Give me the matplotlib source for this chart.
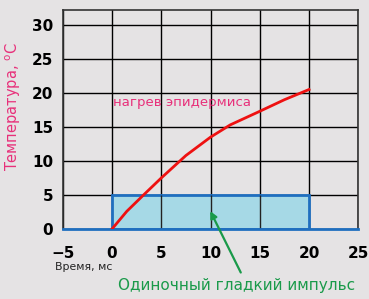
import numpy as np
import matplotlib
matplotlib.use("Agg")
import matplotlib.pyplot as plt
from matplotlib.patches import Rectangle

# кривая нагрева эпидермиса
t_ms = [0, 1.5, 3.2, 5, 7.5, 10, 12, 15, 17.5, 20]
temp_c = [0, 2.6, 5, 7.5, 10.8, 13.5, 15.3, 17.3, 19.0, 20.5]

# импульс
pulse_start, pulse_end, pulse_height = 0, 20, 5

xticks = [-5, 0, 5, 10, 15, 20, 25]
yticks = [0, 5, 10, 15, 20, 25, 30]

bg = "#e5e3e4"
fig = plt.figure(figsize=(3.69, 2.99), dpi=100, facecolor=bg)
ax = fig.add_axes([0.170, 0.234, 0.801, 0.733])
ax.set_facecolor(bg)

ax.set_xlim(-5, 25)
ax.set_ylim(0, 32.2)
ax.set_xticks(xticks)
ax.set_yticks(yticks)
ax.grid(True, color="black", lw=1.0)
ax.set_axisbelow(True)
ax.tick_params(length=0, labelsize=11)
ax.tick_params(axis="x", pad=12)
ax.tick_params(axis="y", pad=7)
for lab in ax.get_xticklabels() + ax.get_yticklabels():
    lab.set_fontweight("bold")

for s in ["left", "right", "top"]:
    ax.spines[s].set_color("#333333")
    ax.spines[s].set_linewidth(1.2)
ax.spines["bottom"].set_color("#1f6fbf")
ax.spines["bottom"].set_linewidth(2)

ax.add_patch(Rectangle((pulse_start, 0), pulse_end - pulse_start, pulse_height,
                       facecolor="#a6d9e6", edgecolor="#1f6fbf", lw=2, zorder=1.5))
ax.vlines(xticks[2:-2], 0, pulse_height, color="#222222", lw=1.0, zorder=1.6)

ax.plot(t_ms, temp_c, color="#ee1111", lw=2, zorder=3)

ax.text(0.1, 19.5, "нагрев эпидермиса", color="#e8307a", fontsize=9.5, va="top")

ax.set_ylabel("Температура, $^{\\mathrm{o}}$C", color="#e8307a", fontsize=10.5)
ax.yaxis.set_label_coords(-0.134, 0.56)
fig.text(0.15, 0.097, "Время, мс", fontsize=7.8, color="#222222")

ax.annotate("", xy=(9.85, 3.0), xytext=(242, 24), textcoords="figure pixels",
            arrowprops=dict(arrowstyle="-|>", color="#1a9a4a", lw=1.6, mutation_scale=10))
fig.text(0.64, 0.03, "Одиночный гладкий импульс", color="#1a9a4a", fontsize=11, ha="center")

fig.savefig("out.png", dpi=100, facecolor=bg)
